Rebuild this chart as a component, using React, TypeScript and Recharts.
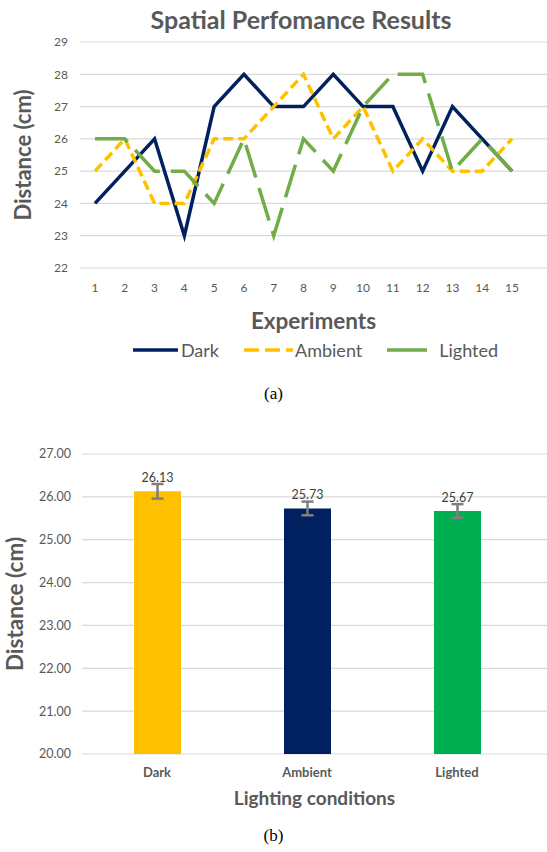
import React from "react";
import {
  LineChart,
  Line,
  BarChart,
  Bar,
  Cell,
  ErrorBar,
  LabelList,
  XAxis,
  YAxis,
  CartesianGrid,
  Legend,
} from "recharts";

const experiments = ["1", "2", "3", "4", "5", "6", "7", "8", "9", "10", "11", "12", "13", "14", "15"];
const dark = [24, 25, 26, 23, 27, 28, 27, 27, 28, 27, 27, 25, 27, 26, 25];
const ambient = [25, 26, 24, 24, 26, 26, 27, 28, 26, 27, 25, 26, 25, 25, 26];
const lighted = [26, 26, 25, 25, 24, 26, 23, 26, 25, 27, 28, 28, 25, 26, 25];
const lineTicks = [22, 23, 24, 25, 26, 27, 28, 29];

const conditions = ["Dark", "Ambient", "Lighted"];
const means = [26.13, 25.73, 25.67];
const stdErrors = [0.17, 0.16, 0.16];
const barTicks = [20, 21, 22, 23, 24, 25, 26, 27];

const FONT = "Lato, 'Open Sans', sans-serif";
const GRAY = "#595959";

// legend icon sizes / gaps follow the original Excel legend
const seriesStyles = [
  { key: "Dark", color: "#002060", dash: undefined, iconDash: undefined, icon: 45, gap: 3 },
  { key: "Ambient", color: "#FFC000", dash: "10 5", iconDash: "15 6", icon: 49, gap: 2 },
  { key: "Lighted", color: "#70AD47", dash: "34 11", iconDash: undefined, icon: 40, gap: 12 },
];
const barColors = ["#FFC000", "#002060", "#00B050"];

const lineData = experiments.map((e, i) => ({
  exp: e,
  Dark: dark[i],
  Ambient: ambient[i],
  Lighted: lighted[i],
}));

const barData = conditions.map((c, i) => ({
  name: c,
  mean: means[i],
  err: stdErrors[i],
}));

function LineLegend() {
  return (
    <div
      style={{
        height: 24,
        display: "flex",
        justifyContent: "center",
        alignItems: "center",
        gap: 25,
        fontFamily: FONT,
        fontSize: 18,
        color: GRAY,
        paddingLeft: 84,
      }}
    >
      {seriesStyles.map((s) => (
        <div key={s.key} style={{ display: "flex", alignItems: "center", gap: s.gap }}>
          <svg width={s.icon} height={10}>
            <line
              x1={0}
              y1={5}
              x2={s.icon}
              y2={5}
              stroke={s.color}
              strokeWidth={3.5}
              strokeDasharray={s.iconDash}
            />
          </svg>
          <span>{s.key}</span>
        </div>
      ))}
    </div>
  );
}

export default function App() {
  return (
    <div
      style={{
        position: "absolute",
        left: 0,
        top: 0,
        width: 547,
        height: 852,
        background: "#fff",
        overflow: "hidden",
      }}
    >
      <div
        style={{
          position: "absolute",
          top: 4,
          left: 60,
          width: 482,
          textAlign: "center",
          fontFamily: FONT,
          fontWeight: "bold",
          fontSize: 25,
          color: GRAY,
        }}
      >
        Spatial Perfomance Results
      </div>

      <div style={{ position: "absolute", left: 0, top: 0 }}>
        <LineChart
          width={547}
          height={370}
          data={lineData}
          margin={{ top: 42, right: 0, left: 0, bottom: 8 }}
        >
          <CartesianGrid vertical={false} stroke="#D9D9D9" strokeWidth={1.2} />
          <XAxis
            dataKey="exp"
            height={70}
            padding={{ left: 15, right: 35 }}
            axisLine={false}
            tickLine={false}
            tickMargin={9}
            tick={{ fontSize: 12, fill: GRAY, fontFamily: FONT }}
            label={{
              value: "Experiments",
              position: "insideBottom",
              offset: 9,
              style: { fontSize: 22.5, fontWeight: "bold", fill: GRAY, fontFamily: FONT },
            }}
          />
          <YAxis
            width={80}
            domain={[22, 29]}
            ticks={lineTicks}
            axisLine={false}
            tickLine={false}
            tickMargin={6}
            tick={{ fontSize: 12, fill: GRAY, fontFamily: FONT }}
            label={{
              value: "Distance (cm)",
              angle: -90,
              position: "insideLeft",
              offset: 23,
              style: { textAnchor: "middle", fontSize: 22, fontWeight: "bold", fill: GRAY, fontFamily: FONT },
            }}
          />
          <Legend verticalAlign="bottom" content={() => <LineLegend />} />
          {seriesStyles.map((s) => (
            <Line
              key={s.key}
              type="linear"
              dataKey={s.key}
              stroke={s.color}
              strokeWidth={3.5}
              strokeDasharray={s.dash}
              dot={false}
              activeDot={false}
              isAnimationActive={false}
            />
          ))}
        </LineChart>
      </div>

      <div
        style={{
          position: "absolute",
          top: 384,
          left: 0,
          width: 547,
          textAlign: "center",
          fontFamily: "'Liberation Serif', serif",
          fontSize: 17,
        }}
      >
        (a)
      </div>

      <div style={{ position: "absolute", left: 0, top: 430 }}>
        <BarChart
          width={547}
          height={390}
          data={barData}
          margin={{ top: 24, right: 0, left: 0, bottom: 8 }}
        >
          <CartesianGrid vertical={false} stroke="#D9D9D9" strokeWidth={1.2} />
          <XAxis
            dataKey="name"
            height={58}
            padding={{ left: 0, right: 15 }}
            axisLine={false}
            tickLine={false}
            tickMargin={8}
            tick={{ fontSize: 13, fill: GRAY, fontFamily: FONT, fontWeight: "bold" }}
            label={{
              value: "Lighting conditions",
              position: "insideBottom",
              offset: 7,
              style: { fontSize: 19, fontWeight: "bold", fill: GRAY, fontFamily: FONT },
            }}
          />
          <YAxis
            width={82}
            domain={[20, 27]}
            ticks={barTicks}
            allowDataOverflow
            axisLine={false}
            tickLine={false}
            tickMargin={5}
            tickFormatter={(v: number) => v.toFixed(2)}
            tick={{ fontSize: 12.5, fill: GRAY, fontFamily: FONT }}
            label={{
              value: "Distance (cm)",
              angle: -90,
              position: "insideLeft",
              offset: 15,
              style: { textAnchor: "middle", fontSize: 22.5, fontWeight: "bold", fill: GRAY, fontFamily: FONT },
            }}
          />
          <Bar dataKey="mean" barSize={47} isAnimationActive={false}>
            {barData.map((d, i) => (
              <Cell key={d.name} fill={barColors[i]} />
            ))}
            <ErrorBar dataKey="err" width={6} stroke="#7F7F7F" strokeWidth={2.5} direction="y" />
            <LabelList
              dataKey="mean"
              position="top"
              offset={9}
              formatter={(v: number) => v.toFixed(2)}
              style={{ fontSize: 12.5, fill: "#404040", fontFamily: FONT }}
            />
          </Bar>
        </BarChart>
      </div>

      <div
        style={{
          position: "absolute",
          top: 826,
          left: 0,
          width: 547,
          textAlign: "center",
          fontFamily: "'Liberation Serif', serif",
          fontSize: 17,
        }}
      >
        (b)
      </div>
    </div>
  );
}
